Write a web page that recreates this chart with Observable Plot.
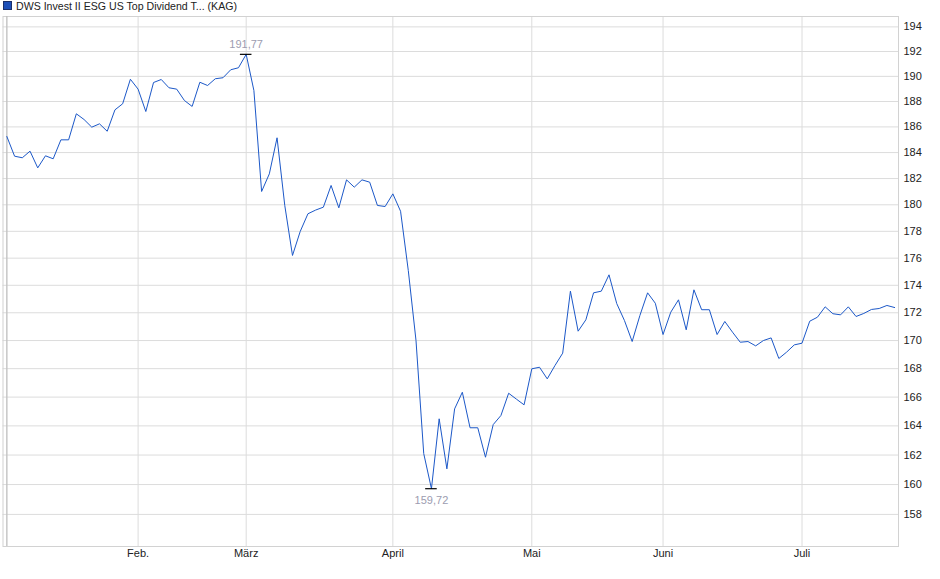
<!DOCTYPE html>
<html>
<head>
<meta charset="utf-8">
<script src="https://cdn.jsdelivr.net/npm/d3@7"></script>
<script src="https://cdn.jsdelivr.net/npm/@observablehq/plot@0.6"></script>
<style>
  html, body { margin: 0; padding: 0; background: #fff; overflow: hidden; }
  #wrap { position: relative; width: 940px; height: 579px; }
  #legend { position: absolute; top: 0; left: 3px; font: 10.6px "Liberation Sans", Arial, sans-serif; color: #222; line-height: 13px; white-space: nowrap; }
  #legend .sw { display: inline-block; width: 7px; height: 7px; background: #1c4fb8; border: 1px solid #1a2f6a; margin-right: 4px; vertical-align: -0px; }
</style>
</head>
<body>
<div id="wrap">
  <div id="chart"></div>
  <div id="legend"><span class="sw"></span>DWS Invest II ESG US Top Dividend T... (KAG)</div>
</div>
<script>
// Price series (one value per trading session, session index = position)
const prices = [
  185.25, 183.72, 183.60, 184.11, 182.82, 183.75, 183.52, 184.99, 184.99, 187.03,
  186.58, 185.98, 186.24, 185.66, 187.34, 187.82, 189.77, 188.98, 187.21, 189.51,
  189.75, 189.09, 188.98, 188.08, 187.61, 189.53, 189.27, 189.81, 189.89, 190.53,
  190.69, 191.77, 188.87, 181.01, 182.36, 185.15, 179.95, 176.20, 177.99, 179.32,
  179.60, 179.82, 181.47, 179.77, 181.90, 181.34, 181.90, 181.72, 179.95, 179.87,
  180.83, 179.51, 175.09, 170.00, 162.10, 159.72, 164.49, 161.06, 165.18, 166.34,
  163.87, 163.87, 161.85, 164.09, 164.72, 166.27, 165.86, 165.46, 167.99, 168.10,
  167.28, 168.22, 169.10, 173.57, 170.67, 171.49, 173.45, 173.57, 174.77, 172.67,
  171.44, 169.93, 171.80, 173.45, 172.69, 170.43, 172.04, 172.94, 170.77, 173.67,
  172.22, 172.22, 170.43, 171.37, 170.60, 169.88, 169.93, 169.62, 170.00, 170.19,
  168.72, 169.17, 169.69, 169.81, 171.39, 171.68, 172.43, 171.93, 171.85, 172.43,
  171.73, 171.95, 172.24, 172.31, 172.53, 172.38
];
// Session index of the first trading day of each month
const monthStart = [0, 17, 31, 50, 68, 85, 103];
const monthLabels = ["", "Feb.", "März", "April", "Mai", "Juni", "Juli"];
const yTicks = [158, 160, 162, 164, 166, 168, 170, 172, 174, 176, 178, 180, 182, 184, 186, 188, 190, 192, 194];

const data = prices.map((v, i) => ({i, v}));
const maxP = data.reduce((a, b) => (b.v > a.v ? b : a));
const minP = data.reduce((a, b) => (b.v < a.v ? b : a));
const fmt = v => v.toFixed(2).replace(".", ",");
const labelled = monthStart.filter((d, k) => monthLabels[k] !== "");

const chart = Plot.plot({
  width: 940,
  height: 579,
  marginTop: 16,
  marginBottom: 33,
  marginLeft: 2.5,
  marginRight: 42,
  style: {fontFamily: "'Liberation Sans', Arial, sans-serif", fontSize: "11px", background: "#fff", color: "#222", overflow: "visible"},
  x: {type: "linear", domain: [-0.5, 115.5]},
  y: {type: "log", domain: [155.88, 194.85]},
  marks: [
    Plot.gridY(yTicks, {stroke: "#dcdcdc", strokeOpacity: 1}),
    Plot.gridX(monthStart, {stroke: "#dcdcdc", strokeOpacity: 1}),
    Plot.frame({stroke: "#d2d2d2"}),
    Plot.axisY(yTicks, {anchor: "right", tickSize: 0, tickPadding: 5, tickFormat: d => String(d), label: null, fill: "#222"}),
    Plot.axisX(labelled, {anchor: "bottom", tickSize: 0, tickPadding: 3, tickFormat: d => monthLabels[monthStart.indexOf(d)], label: null, fill: "#222"}),
    Plot.tickX([0], {y1: 155.88, y2: 155.5, stroke: "#bbb"}),
    Plot.line(data, {x: "i", y: "v", stroke: "#1c58c8", strokeWidth: 1}),
    Plot.ruleY([maxP], {x1: d => d.i - 0.75, x2: d => d.i + 0.75, y: "v", stroke: "#000", strokeWidth: 1.2}),
    Plot.ruleY([minP], {x1: d => d.i - 0.75, x2: d => d.i + 0.75, y: "v", stroke: "#000", strokeWidth: 1.2}),
    Plot.text([maxP], {x: "i", y: "v", text: d => fmt(d.v), dy: -10, fill: "#9c9cb0"}),
    Plot.text([minP], {x: "i", y: "v", text: d => fmt(d.v), dy: 12, fill: "#9c9cb0"})
  ]
});
document.getElementById("chart").appendChild(chart);
</script>
</body>
</html>
